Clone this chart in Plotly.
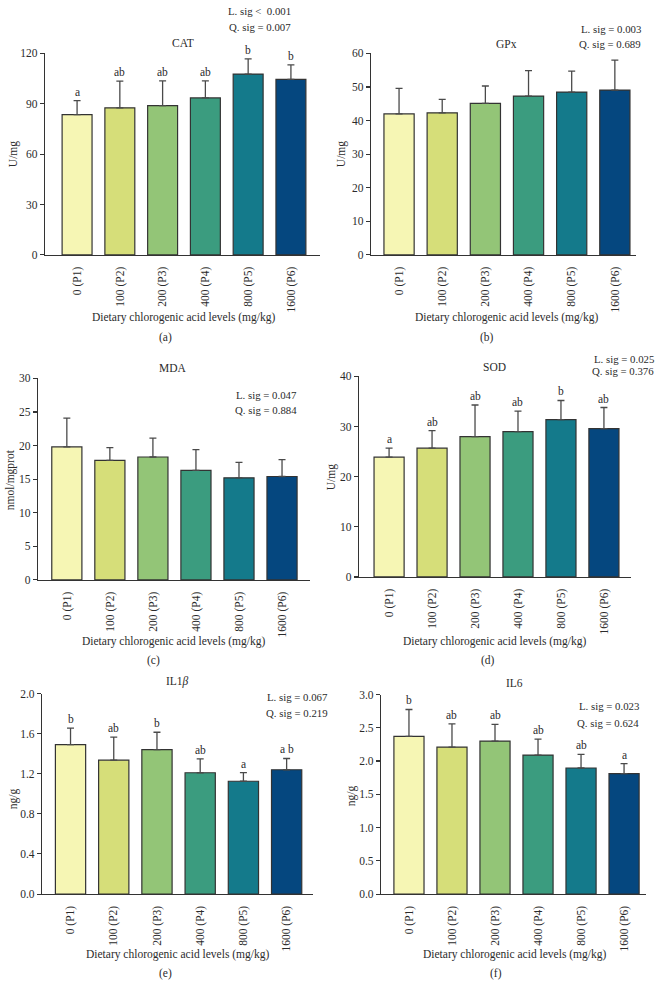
import plotly.graph_objects as go

W, H = 656, 986

categories = ["0 (P1)", "100 (P2)", "200 (P3)", "400 (P4)", "800 (P5)", "1600 (P6)"]
bar_colors = ["#F6F6B4", "#D6DE79", "#93C577", "#3B9C7F", "#147A8B", "#05477F"]

cat_mean = [83.5, 87.6, 88.9, 93.5, 107.7, 104.5]
cat_sd = [8.4, 15.9, 14.7, 10.2, 9.1, 8.7]
cat_letters = ["a", "ab", "ab", "ab", "b", "b"]

gpx_mean = [42.0, 42.3, 45.1, 47.3, 48.5, 49.1]
gpx_sd = [7.6, 4.0, 5.2, 7.6, 6.2, 8.9]
gpx_letters = ["", "", "", "", "", ""]

mda_mean = [19.8, 17.8, 18.3, 16.3, 15.2, 15.4]
mda_sd = [4.3, 1.9, 2.8, 3.1, 2.3, 2.5]
mda_letters = ["", "", "", "", "", ""]

sod_mean = [23.9, 25.7, 28.0, 29.0, 31.4, 29.6]
sod_sd = [1.8, 3.5, 6.3, 4.1, 3.8, 4.2]
sod_letters = ["a", "ab", "ab", "ab", "b", "ab"]

il1b_mean = [1.49, 1.335, 1.44, 1.21, 1.125, 1.24]
il1b_sd = [0.165, 0.231, 0.174, 0.138, 0.087, 0.112]
il1b_letters = ["b", "ab", "b", "ab", "a", "a b"]

il6_mean = [2.37, 2.21, 2.30, 2.09, 1.895, 1.81]
il6_sd = [0.405, 0.35, 0.25, 0.24, 0.205, 0.15]
il6_letters = ["b", "ab", "ab", "ab", "ab", "a"]

x_title = "Dietary chlorogenic acid levels (mg/kg)"

FONT = "Liberation Serif, Times New Roman, serif"
TXT = "#2b2b2b"
FS = 11.5
FS_SIG = 10.8

panels = [
    dict(mean=cat_mean, sd=cat_sd, letters=cat_letters, title="CAT", ytitle="U/mg",
         x0=45, x1=320, yt=48, yb=252, xr=[-0.75, 5.68], ymax=120, dtick=30,
         title_xy=(183, 37), ytitle_xy=(13, 150), label="(a)", label_xy=(165, 336),
         sig=["L. sig <  0.001", "Q. sig = 0.007"], sig_xy=(293, 5, 21), xt_y=315),
    dict(mean=gpx_mean, sd=gpx_sd, letters=gpx_letters, title="GPx", ytitle="U/mg",
         x0=371, x1=636, yt=48, yb=252, xr=[-0.65, 5.49], ymax=60, dtick=10,
         title_xy=(506, 38), ytitle_xy=(341, 150), label="(b)", label_xy=(487, 336),
         sig=["L. sig = 0.003", "Q. sig = 0.689"], sig_xy=(643, 23, 38), xt_y=315),
    dict(mean=mda_mean, sd=mda_sd, letters=mda_letters, title="MDA", ytitle="nmol/mgprot",
         x0=38, x1=310, yt=377, yb=581, xr=[-0.67, 5.65], ymax=30, dtick=5,
         title_xy=(173, 366), ytitle_xy=(10, 480), label="(c)", label_xy=(153, 663),
         sig=["L. sig = 0.047", "Q. sig = 0.884"], sig_xy=(299, 394, 409), xt_y=643),
    dict(mean=sod_mean, sd=sod_sd, letters=sod_letters, title="SOD", ytitle="U/mg",
         x0=359, x1=631, yt=375, yb=578, xr=[-0.7, 5.63], ymax=40, dtick=10,
         title_xy=(494, 365), ytitle_xy=(331, 477), label="(d)", label_xy=(488, 663),
         sig=["L. sig = 0.025", "Q. sig = 0.376"], sig_xy=(656, 357, 369), xt_y=643),
    dict(mean=il1b_mean, sd=il1b_sd, letters=il1b_letters, title="IL1<i>β</i>", ytitle="ng/g",
         x0=42, x1=313, yt=696, yb=899, xr=[-0.66, 5.61], ymax=2.0, dtick=0.4,
         title_xy=(177, 684), ytitle_xy=(13, 803), label="(e)", label_xy=(165, 979),
         sig=["L. sig = 0.067", "Q. sig = 0.219"], sig_xy=(330, 700, 716), xt_y=960, fmt=".1f"),
    dict(mean=il6_mean, sd=il6_sd, letters=il6_letters, title="IL6", ytitle="ng/g",
         x0=381, x1=646, yt=697, yb=899, xr=[-0.65, 5.51], ymax=3.0, dtick=0.5,
         title_xy=(514, 685), ytitle_xy=(351, 800), label="(f)", label_xy=(496, 979),
         sig=["L. sig = 0.023", "Q. sig = 0.624"], sig_xy=(641, 709, 726), xt_y=960, fmt=".1f"),
]


def fx(x):
    return x / W


def fy(y):
    return 1 - y / H


fig = go.Figure()
annotations = []
layout = {}

for i, p in enumerate(panels):
    n = "" if i == 0 else str(i + 1)
    xa, ya = "x" + n, "y" + n
    fig.add_trace(go.Bar(
        x=categories, y=p["mean"], xaxis=xa, yaxis=ya,
        marker=dict(color=bar_colors, line=dict(color="#333333", width=1.2)),
        width=0.7,
        error_y=dict(type="data", symmetric=False, array=p["sd"], arrayminus=[0] * 6,
                     color="#4a4a4a", thickness=1.3, width=3.5),
        showlegend=False, hoverinfo="skip",
    ))
    layout["xaxis" + n] = dict(
        domain=[fx(p["x0"]), fx(p["x1"])], anchor=ya, type="category",
        range=p["xr"], showline=True, linecolor="#333333", linewidth=1.2,
        ticks="outside", ticklen=6, tickcolor="rgba(0,0,0,0)", tickangle=-90,
        tickfont=dict(family=FONT, size=FS, color=TXT), showgrid=False, zeroline=False,
        fixedrange=True,
    )
    layout["yaxis" + n] = dict(
        domain=[fy(p["yb"]), fy(p["yt"])], anchor=xa, range=[0, p["ymax"]],
        dtick=p["dtick"], tick0=0, showline=True, linecolor="#333333", linewidth=1.2,
        ticks="outside", ticklen=4, tickwidth=1.1, tickcolor="#333333",
        tickformat=p.get("fmt", "d"),
        tickfont=dict(family=FONT, size=FS, color=TXT), showgrid=False, zeroline=False,
        fixedrange=True,
    )
    for c, m, s, l in zip(categories, p["mean"], p["sd"], p["letters"]):
        if l:
            annotations.append(dict(x=c, y=m + s, xref=xa, yref=ya, text=l, showarrow=False,
                                    yanchor="bottom", yshift=1,
                                    font=dict(family=FONT, size=FS, color=TXT)))
    tx, ty = p["title_xy"]
    annotations.append(dict(x=fx(tx), y=fy(ty), xref="paper", yref="paper", text=p["title"],
                            showarrow=False, xanchor="center", yanchor="middle",
                            font=dict(family=FONT, size=FS, color=TXT)))
    yx, yy = p["ytitle_xy"]
    annotations.append(dict(x=fx(yx), y=fy(yy), xref="paper", yref="paper", text=p["ytitle"],
                            showarrow=False, textangle=-90, xanchor="center", yanchor="middle",
                            font=dict(family=FONT, size=FS, color=TXT)))
    annotations.append(dict(x=fx(tx), y=fy(p["xt_y"]), xref="paper",
                            yref="paper", text=x_title, showarrow=False, xanchor="center",
                            yanchor="middle", font=dict(family=FONT, size=FS, color=TXT)))
    lx, ly = p["label_xy"]
    annotations.append(dict(x=fx(lx), y=fy(ly), xref="paper", yref="paper", text=p["label"],
                            showarrow=False, xanchor="center", yanchor="middle",
                            font=dict(family=FONT, size=FS, color=TXT)))
    sx, sy1, sy2 = p["sig_xy"]
    for txt, sy in zip(p["sig"], [sy1, sy2]):
        annotations.append(dict(x=fx(sx), y=fy(sy), xref="paper", yref="paper", text=txt,
                                showarrow=False, xanchor="right", yanchor="middle",
                                font=dict(family=FONT, size=FS_SIG, color=TXT)))

fig.update_layout(
    width=W, height=H, margin=dict(l=0, r=0, t=0, b=0),
    paper_bgcolor="white", plot_bgcolor="white",
    annotations=annotations, bargap=0.3, **layout,
)

fig.write_html(
    "out.html",
    config={"displayModeBar": False, "staticPlot": True},
    post_script="document.body.style.margin='0';document.body.style.padding='0';"
                "document.documentElement.style.overflow='hidden';"
                "document.body.style.overflow='hidden';",
)
